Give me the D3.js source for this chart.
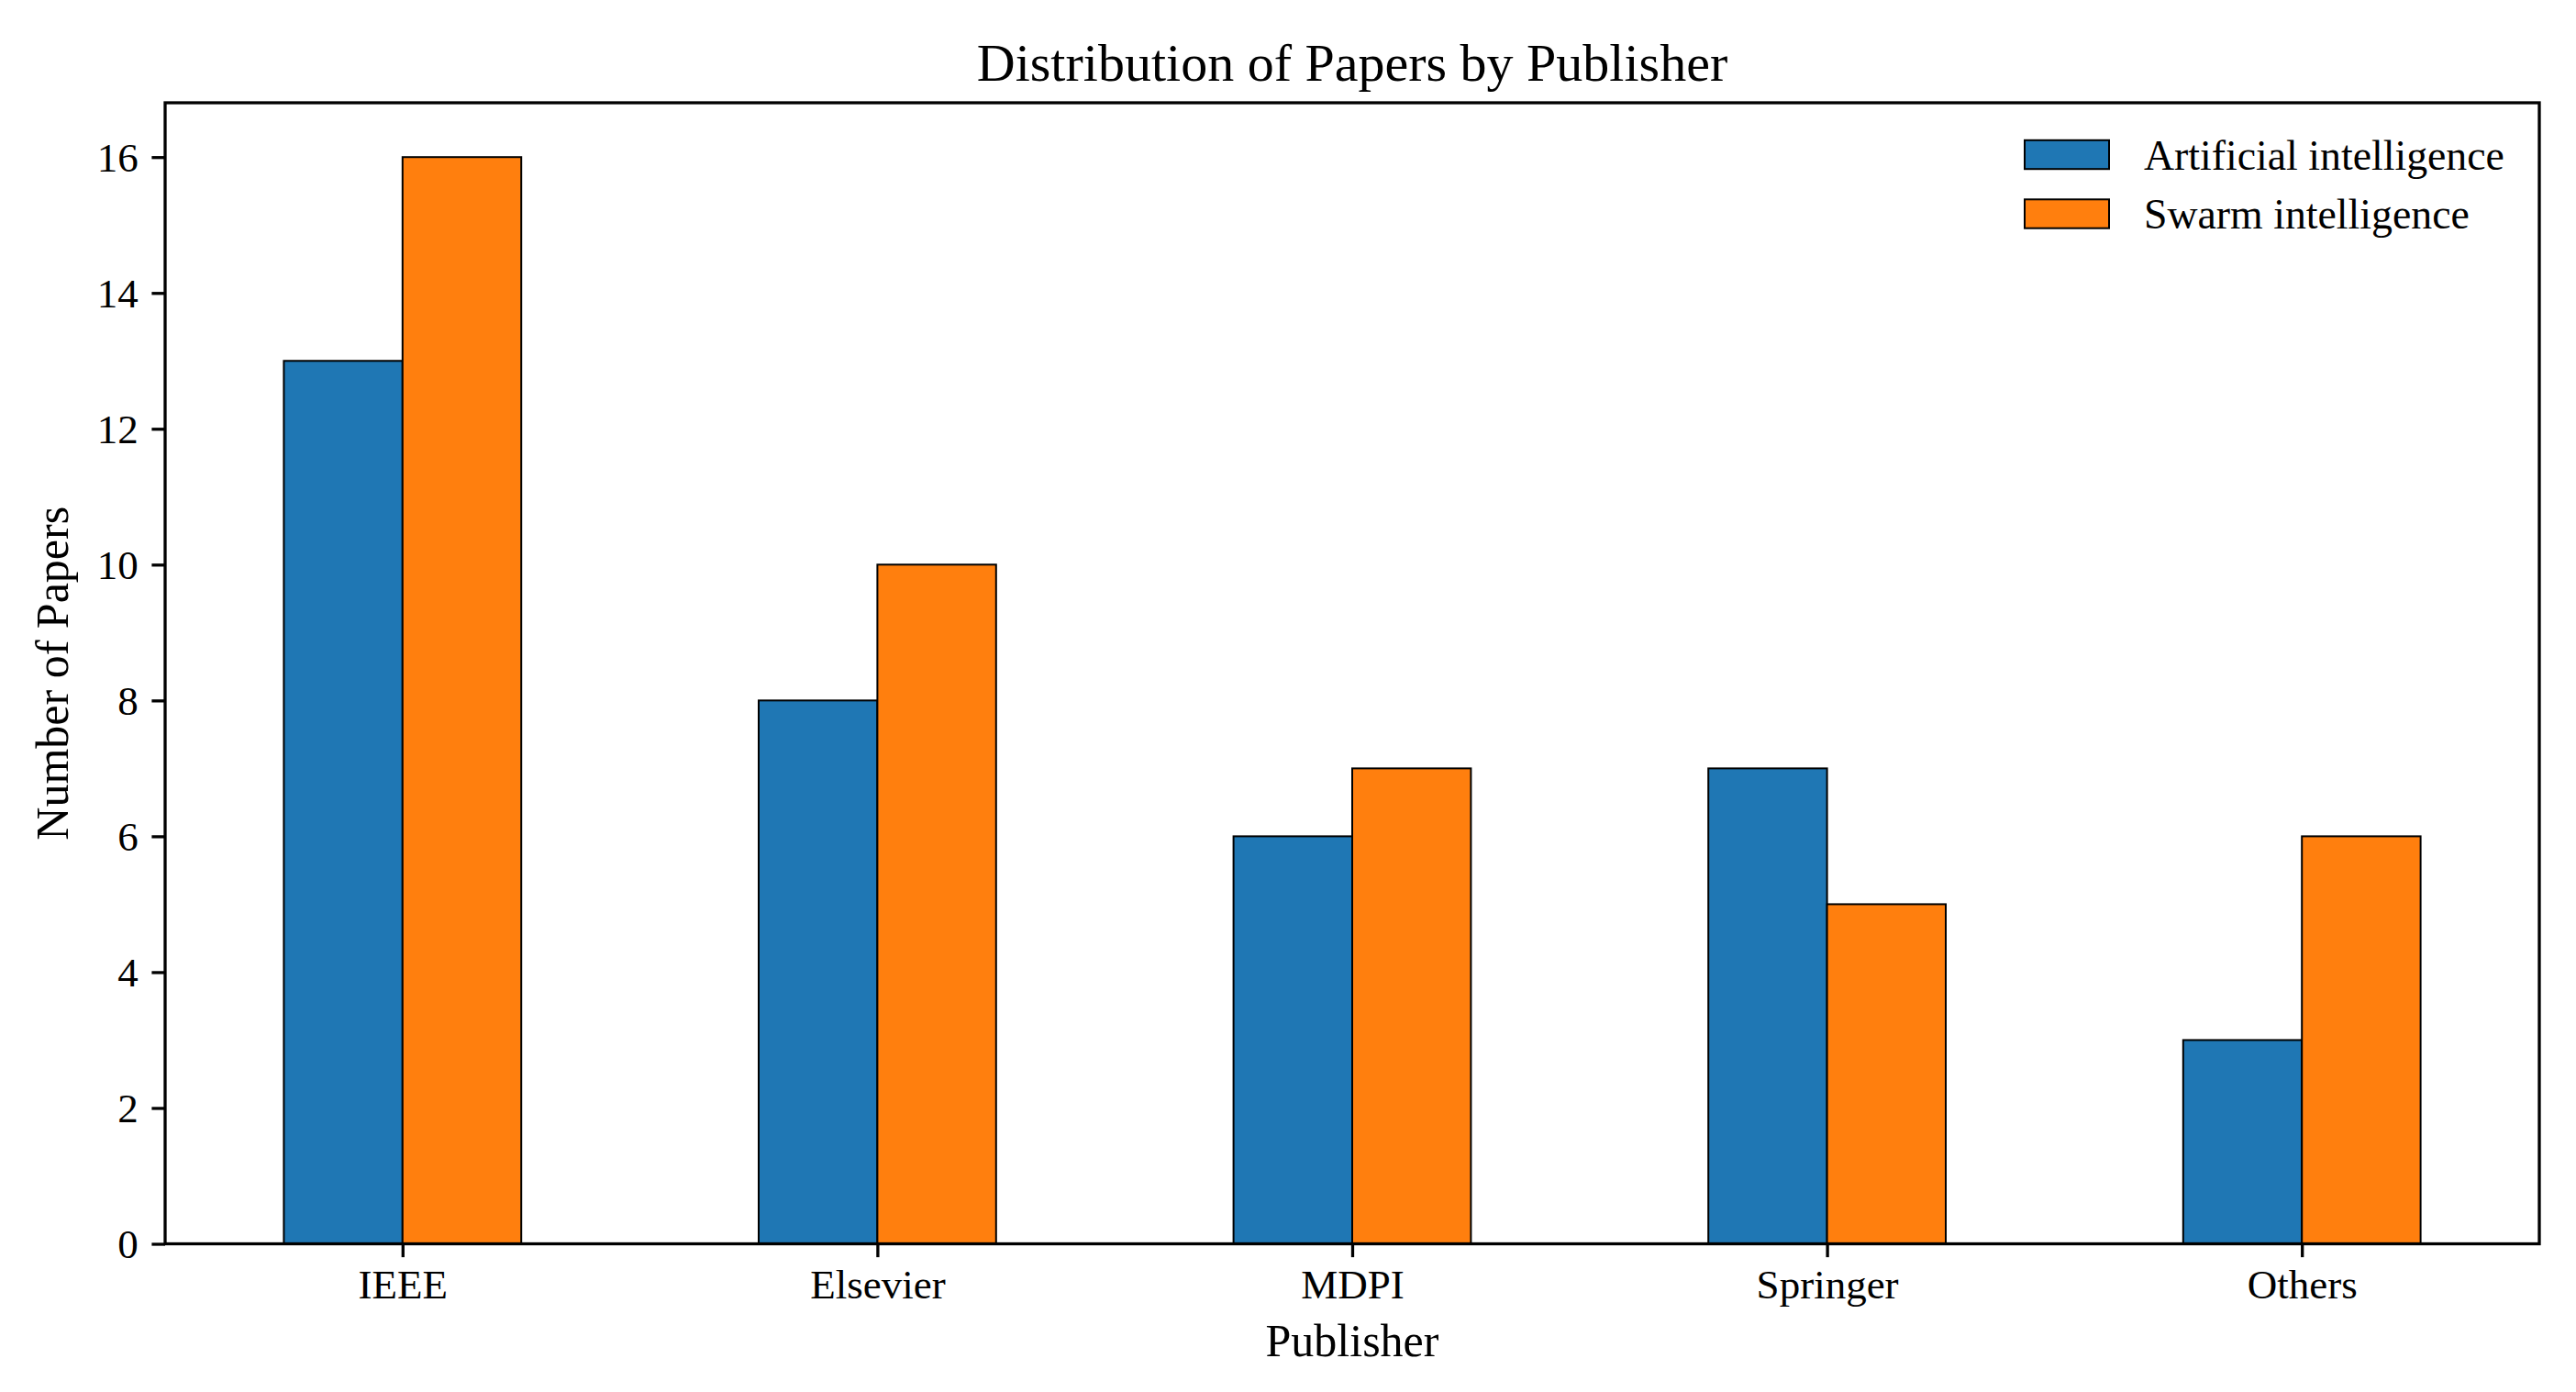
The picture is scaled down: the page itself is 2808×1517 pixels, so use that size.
<!DOCTYPE html>
<html>
<head>
<meta charset="utf-8">
<script src="https://cdn.jsdelivr.net/npm/d3@7"></script>
<style>
  html, body { margin: 0; padding: 0; background: #fff; }
  svg { display: block; }
  text { font-family: "Liberation Serif", "Times New Roman", serif; fill: #000; }
</style>
</head>
<body>
<svg id="chart" width="2808" height="1517"></svg>
<script>
const categories = ["IEEE", "Elsevier", "MDPI", "Springer", "Others"];
const seriesNames = ["Artificial intelligence", "Swarm intelligence"];
const aiValues = [13, 8, 6, 7, 3];
const swarmValues = [16, 10, 7, 5, 6];
const yTicks = [0, 2, 4, 6, 8, 10, 12, 14, 16];
const colors = ["#1f77b4", "#ff7f0e"];

const W = 2808, H = 1517;
const L = 180, R = 2768, T = 112, B = 1355.5;
const svg = d3.select("#chart");
svg.append("rect").attr("width", W).attr("height", H).attr("fill", "#fff");

const x = d3.scaleLinear().domain([-0.5, categories.length - 0.5]).range([L, R]);
const y = d3.scaleLinear().domain([0, 16.8]).range([B, T]);
const barW = 0.25;

const series = [aiValues, swarmValues];
series.forEach((vals, si) => {
  svg.append("g").selectAll("rect").data(vals).join("rect")
    .attr("x", (d, i) => x(i - barW + si * barW))
    .attr("y", d => y(d))
    .attr("width", x(barW) - x(0))
    .attr("height", d => y(0) - y(d))
    .attr("fill", colors[si])
    .attr("stroke", "#000")
    .attr("stroke-width", 2);
});

const tickLen = 14.6, tickPad = 14.6;
const yAxis = d3.axisLeft(y).tickValues(yTicks).tickFormat(d3.format("d"))
  .tickSize(tickLen).tickPadding(tickPad);
const gy = svg.append("g").attr("transform", `translate(${L},0)`).call(yAxis);
gy.select(".domain").remove();
gy.selectAll("line").attr("stroke", "#000").attr("stroke-width", 3.3);
gy.selectAll("text").attr("font-size", 45).attr("font-family", "Liberation Serif, Times New Roman, serif")
  .attr("dy", "0.34em");

const xAxis = d3.axisBottom(x).tickValues(d3.range(categories.length))
  .tickFormat(i => categories[i]).tickSize(tickLen).tickPadding(tickPad);
const gx = svg.append("g").attr("transform", `translate(0,${B})`).call(xAxis);
gx.select(".domain").remove();
gx.selectAll("line").attr("stroke", "#000").attr("stroke-width", 3.3);
gx.selectAll("text").attr("font-size", 45).attr("font-family", "Liberation Serif, Times New Roman, serif")
  .attr("dy", null).attr("y", 1415 - B);

svg.append("rect").attr("x", L).attr("y", T).attr("width", R - L).attr("height", B - T)
  .attr("fill", "none").attr("stroke", "#000").attr("stroke-width", 3.3);

svg.append("text").attr("x", (L + R) / 2).attr("y", 88).attr("text-anchor", "middle")
  .attr("font-size", 58).text("Distribution of Papers by Publisher");
svg.append("text").attr("x", (L + R) / 2).attr("y", 1478).attr("text-anchor", "middle")
  .attr("font-size", 50).text("Publisher");
svg.append("text").attr("transform", `translate(74,${(T + B) / 2}) rotate(-90)`)
  .attr("text-anchor", "middle").attr("font-size", 50).text("Number of Papers");

const leg = svg.append("g");
seriesNames.forEach((name, i) => {
  const cy = 168.5 + i * 64.5;
  leg.append("rect").attr("x", 2207).attr("y", cy - 15.7).attr("width", 92).attr("height", 31.4)
    .attr("fill", colors[i]).attr("stroke", "#000").attr("stroke-width", 2);
  leg.append("text").attr("x", 2337).attr("y", cy + 16).attr("font-size", 45.8).text(name);
});
</script>
</body>
</html>
